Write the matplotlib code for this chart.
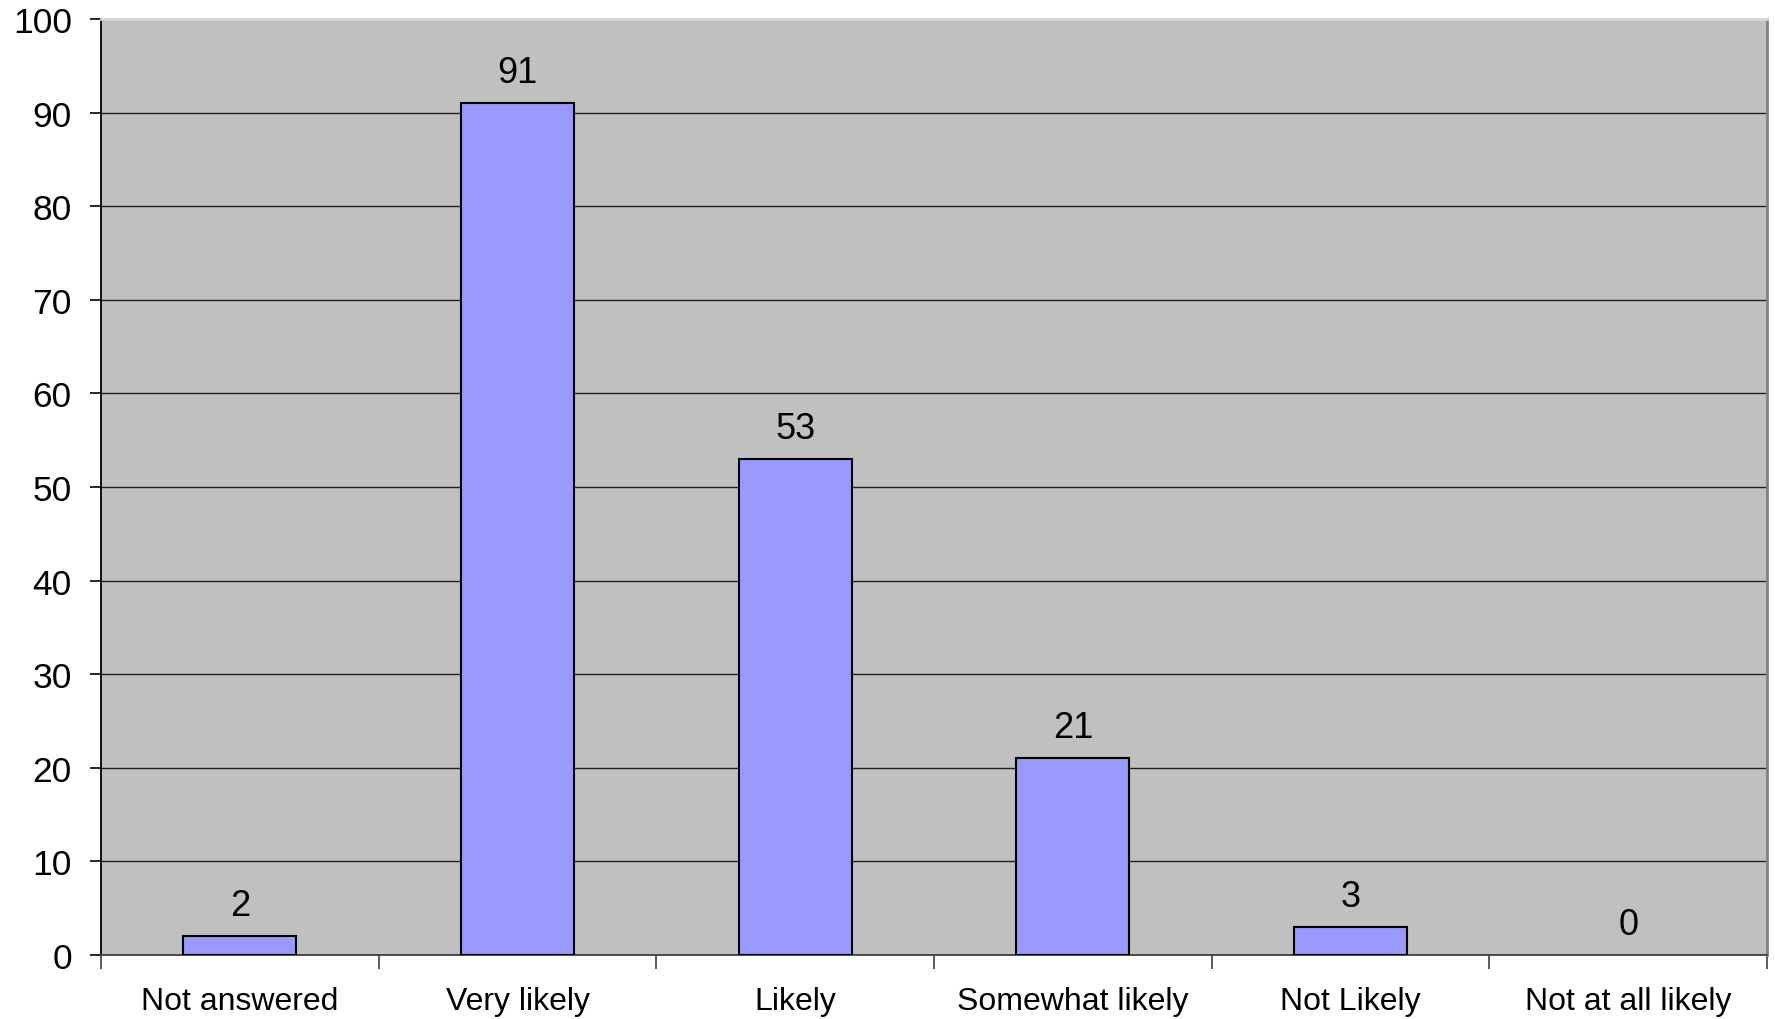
import numpy as np
import matplotlib.pyplot as plt

# data
categories = ["Not answered", "Very likely", "Likely", "Somewhat likely", "Not Likely", "Not at all likely"]
counts = [2, 91, 53, 21, 3, 0]
y_ticks = [0, 10, 20, 30, 40, 50, 60, 70, 80, 90, 100]

plt.rcParams['font.family'] = ['Liberation Sans', 'DejaVu Sans']

fig = plt.figure(figsize=(17.75, 10.2), dpi=100)
ax = fig.add_axes([101 / 1775, 64 / 1020, 1666 / 1775, 936 / 1020])
ax.set_facecolor('#c0c0c0')

x = np.arange(len(categories))
# no outline on empty bars
edges = ['black' if v > 0 else 'none' for v in counts]
ax.bar(x, counts, width=0.407, color='#9999ff', edgecolor=edges, linewidth=1.5, zorder=3)

for xi, v in zip(x, counts):
    ax.annotate(str(v), (xi, v), xytext=(0, 9.5), textcoords='offset points',
                ha='center', va='bottom', fontsize=26)

ax.set_xlim(-0.5, len(categories) - 0.5)
ax.set_ylim(0, 100)
ax.set_yticks(y_ticks)
ax.yaxis.grid(True, color='#202020', linewidth=1.0, zorder=1)
ax.set_axisbelow(True)

ax.set_xticks(x)
ax.set_xticklabels(categories, fontsize=23)
ax.set_xticks(np.arange(-0.5, len(categories)), minor=True)
ax.tick_params(axis='x', which='major', length=0, pad=22)
ax.tick_params(axis='x', which='minor', length=10, width=1.2, color='#404040', direction='out')
ax.tick_params(axis='y', length=8, width=1.2, pad=13, labelsize=25.5)

ax.spines['left'].set_color('black')
ax.spines['left'].set_linewidth(1.3)
ax.spines['bottom'].set_color('#404040')
ax.spines['bottom'].set_linewidth(1.3)
ax.spines['top'].set_color('#d8d8d8')
ax.spines['top'].set_linewidth(2)
ax.spines['right'].set_color('#808080')
ax.spines['right'].set_linewidth(2)

fig.savefig('out.png', dpi=100)
